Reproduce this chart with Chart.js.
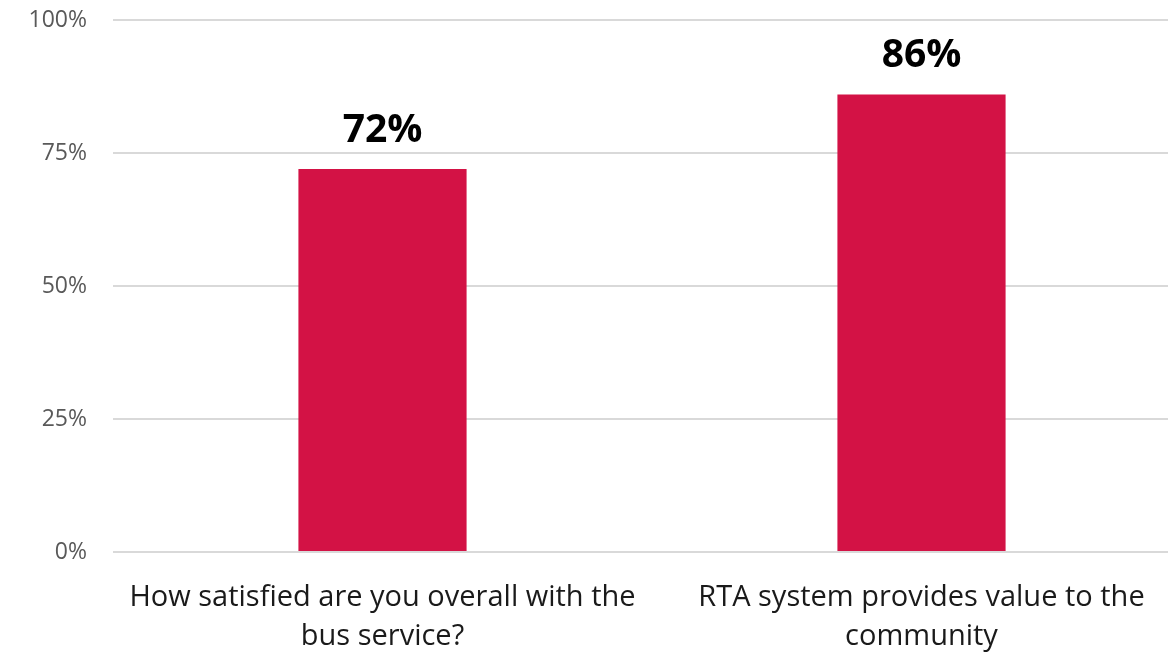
<!DOCTYPE html>
<html>
<head>
<meta charset="utf-8">
<script src="https://cdn.jsdelivr.net/npm/chart.js@4/dist/chart.umd.min.js"></script>
<style>
html,body{margin:0;padding:0;background:#fff;overflow:hidden;width:1168px;height:655px;}
#wrap{width:1191px;height:655px;}
</style>
</head>
<body>
<div id="wrap"><canvas id="c" width="1191" height="655"></canvas></div>
<script>
const categories = [
  ["How satisfied are you overall with the", "bus service?"],
  ["RTA system provides value to the", "community"]
];
const values = [72, 86];
const yTicks = [0, 25, 50, 75, 100];

const FONT = "'Open Sans', Lato, sans-serif";

const valueLabels = {
  id: 'valueLabels',
  afterDatasetsDraw(chart) {
    const ctx = chart.ctx;
    const meta = chart.getDatasetMeta(0);
    ctx.save();
    ctx.font = "bold 39px " + FONT;
    ctx.fillStyle = "#000000";
    ctx.textAlign = "center";
    ctx.textBaseline = "alphabetic";
    meta.data.forEach((bar, i) => {
      ctx.fillText(values[i] + "%", bar.x, bar.y - 27);
    });
    ctx.restore();
  }
};

new Chart(document.getElementById('c'), {
  type: 'bar',
  data: {
    labels: categories,
    datasets: [{
      data: values,
      backgroundColor: '#D31245',
      borderWidth: 0,
      categoryPercentage: 1,
      barPercentage: 0.312
    }]
  },
  options: {
    responsive: false,
    animation: false,
    layout: { padding: { top: 20, left: 0, right: 0, bottom: 0 } },
    plugins: { legend: { display: false }, tooltip: { enabled: false } },
    scales: {
      x: {
        grid: { display: false, drawTicks: false },
        border: { display: false },
        ticks: {
          color: '#1a1a1a',
          font: { family: FONT, size: 29, lineHeight: 1.35 },
          padding: 26,
          maxRotation: 0,
          autoSkip: false
        },
        afterFit(s) { s.height = 103; s.paddingLeft = 0; s.paddingRight = 0; s.paddingTop = 0; s.paddingBottom = 0; }
      },
      y: {
        min: 0, max: 100,
        afterBuildTicks(s) { s.ticks = yTicks.map(v => ({ value: v })); },
        grid: { color: '#d9d9d9', lineWidth: 2, drawTicks: false },
        border: { display: false },
        ticks: {
          color: '#595959',
          font: { family: FONT, size: 23 },
          padding: 26,
          callback: v => v + '%'
        },
        afterFit(s) { s.width = 113; s.paddingTop = 0; s.paddingBottom = 0; s.paddingLeft = 0; s.paddingRight = 0; }
      }
    }
  },
  plugins: [valueLabels]
});
</script>
</body>
</html>
